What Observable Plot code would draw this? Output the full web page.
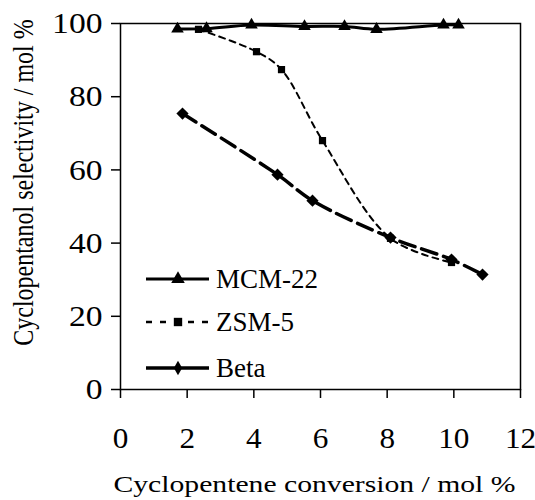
<!DOCTYPE html>
<html>
<head>
<meta charset="utf-8">
<script src="https://cdn.jsdelivr.net/npm/d3@7"></script>
<script src="https://cdn.jsdelivr.net/npm/@observablehq/plot@0.6"></script>
<style>
  body { margin: 0; background: #fff; }
  #wrap { position: relative; width: 535px; height: 500px; }
  #wrap svg text { font-family: 'Liberation Serif', 'Times New Roman', serif; }
  #legend { position: absolute; left: 0; top: 0; }
</style>
</head>
<body>
<div id="wrap"></div>
<script>
const mcmX = [1.71, 2.58, 3.93, 5.52, 6.72, 7.68, 9.69, 10.14];
const mcmY = [98.5, 98.6, 99.6, 99.2, 99.2, 98.4, 99.6, 99.6];
const zsmX = [2.34, 4.08, 4.83, 6.06, 8.1, 9.93];
const zsmY = [98.4, 92.3, 87.4, 68.0, 41.3, 34.7];
const betaX = [1.86, 4.71, 5.76, 8.1, 9.93, 10.86];
const betaY = [75.4, 58.7, 51.6, 41.5, 35.5, 31.4];
const seriesNames = ["MCM-22", "ZSM-5", "Beta"];
const xTicks = [0, 2, 4, 6, 8, 10, 12];
const yTicks = [0, 20, 40, 60, 80, 100];
const xTitle = "Cyclopentene conversion / mol %";
const yTitle = "Cyclopentanol selectivity / mol %";

const mk = (xs, ys) => xs.map((x, i) => ({x, y: ys[i]}));
const mcm = mk(mcmX, mcmY), zsm = mk(zsmX, zsmY), beta = mk(betaX, betaY);

const font = "'Liberation Serif', 'Times New Roman', serif";

const chart = Plot.plot({
  width: 535,
  height: 500,
  marginLeft: 120,
  marginRight: 15,
  marginTop: 23,
  marginBottom: 111,
  style: {fontFamily: font, fontSize: "30px", color: "#000", background: "#fff", overflow: "visible"},
  x: {domain: [0, 12], ticks: xTicks},
  y: {domain: [0, 100], ticks: yTicks},
  marks: [
    Plot.frame({stroke: "#000", strokeWidth: 1.5}),
    Plot.axisX({ticks: xTicks, tickSize: 9, tickPadding: 28, tickFormat: d => String(d), label: null, fontSize: 30, strokeWidth: 1.5}),
    Plot.axisY({ticks: yTicks, tickSize: 9, tickPadding: 9, tickFormat: d => String(d), label: null, fontSize: 30, strokeWidth: 1.5}),
    Plot.text([xTitle], {text: d => d, frameAnchor: "bottom", textAnchor: "middle", dy: 102, dx: -6, fontSize: 24, fill: "#000", className: "xtitle"}),
    Plot.text([yTitle], {text: d => d, frameAnchor: "left", textAnchor: "middle", rotate: -90, dx: -97, dy: -24, fontSize: 24, fill: "#000", className: "ytitle"}),
    Plot.line(beta, {x: "x", y: "y", curve: "catmull-rom", stroke: "#000", strokeWidth: 3.5, strokeDasharray: "16,7"}),
    Plot.line(zsm, {x: "x", y: "y", curve: "catmull-rom", stroke: "#000", strokeWidth: 2, strokeDasharray: "6,5"}),
    Plot.line(mcm, {x: "x", y: "y", curve: "catmull-rom", stroke: "#000", strokeWidth: 3}),
    Plot.dot(beta, {x: "x", y: "y", symbol: "diamond2", r: 5.5, fill: "#000", stroke: "none"}),
    Plot.dot(zsm, {x: "x", y: "y", symbol: "square2", r: 4.6, fill: "#000", stroke: "none"}),
    Plot.dot(mcm, {x: "x", y: "y", symbol: "triangle2", r: 6, fill: "#000", stroke: "none"})
  ]
});
document.getElementById("wrap").appendChild(chart);

// the reference's lettering is slightly stretched horizontally
d3.select(chart).selectAll("text").each(function() {
  const p = this.parentNode;
  const lbl = p && p.getAttribute("aria-label") || "";
  const s = lbl === "x-axis tick label" ? 1.04 : lbl === "y-axis tick label" ? 1.12 : null;
  if (s) {
    const t = this.getAttribute("transform") || "";
    this.setAttribute("transform", t + ` scale(${s},1)`);
  }
});
// stretch the x title horizontally to the reference's span
d3.select(chart).selectAll("g.xtitle text").each(function() {
  this.setAttribute("textLength", 402);
  this.setAttribute("lengthAdjust", "spacingAndGlyphs");
});
// widen the rotated y title's glyphs horizontally
d3.select(chart).selectAll("g.ytitle").each(function() {
  const svgBox = chart.getBoundingClientRect();
  const b = this.getBoundingClientRect();
  const cx = (b.left + b.right) / 2 - svgBox.left;
  const wrapper = document.createElementNS("http://www.w3.org/2000/svg", "g");
  wrapper.setAttribute("transform", `translate(${cx},0) scale(1.22,1) translate(${-cx},0)`);
  this.parentNode.insertBefore(wrapper, this);
  wrapper.appendChild(this);
});

// Legend (inside plot area)
const leg = d3.select("#wrap").append("svg").attr("id", "legend")
  .attr("width", 535).attr("height", 500);
const rows = [
  {name: seriesNames[0], y: 279, dash: null, w: 3, sym: d3.symbolTriangle, size: 80},
  {name: seriesNames[1], y: 322, dash: "6,8", w: 2.5, sym: d3.symbolSquare, size: 70},
  {name: seriesNames[2], y: 368, dash: null, w: 3.5, sym: d3.symbolDiamond, size: 60}
];
rows.forEach(r => {
  const g = leg.append("g");
  g.append("line").attr("x1", 146).attr("x2", 209).attr("y1", r.y).attr("y2", r.y)
    .attr("stroke", "#000").attr("stroke-width", r.w)
    .attr("stroke-dasharray", r.dash);
  g.append("path").attr("d", d3.symbol(r.sym, r.size)())
    .attr("transform", `translate(178,${r.y})`).attr("fill", "#000");
  g.append("text").attr("x", 216).attr("y", r.y).attr("dy", "0.35em")
    .attr("font-size", 27).text(r.name);
});
</script>
</body>
</html>
